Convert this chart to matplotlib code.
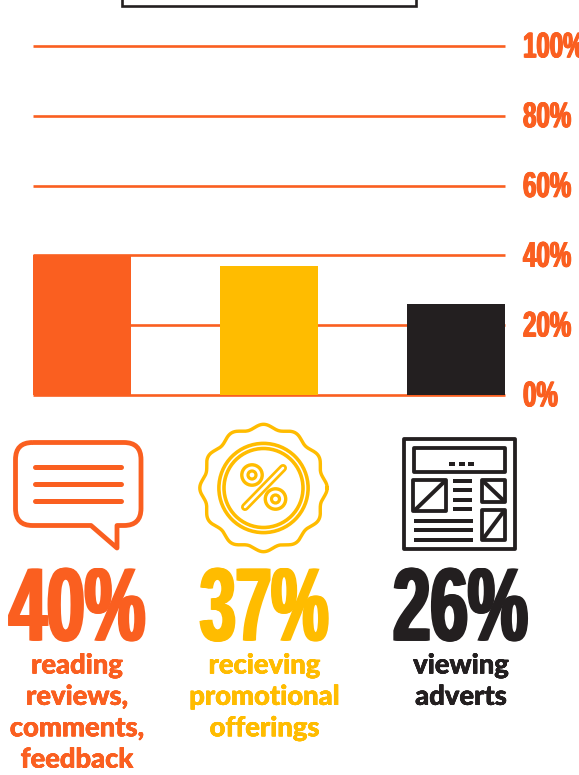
import numpy as np
import matplotlib
matplotlib.use('Agg')
import matplotlib.pyplot as plt
import matplotlib.patches as mp
import matplotlib.patheffects as pe
from matplotlib.path import Path
from matplotlib.transforms import Affine2D

activities = ['reading\nreviews,\ncomments,\nfeedback', 'recieving\npromotional\nofferings', 'viewing\nadverts']
shares = [40, 37, 26]
big_labels = ['40%', '37%', '26%']
ticks = [0, 20, 40, 60, 80, 100]
tick_labels = ['0%', '20%', '40%', '60%', '80%', '100%']
ORANGE = '#FA5F20'
YELLOW = '#FFBC00'
BLACK = '#231F20'
colors = [ORANGE, YELLOW, BLACK]

W, H = 579, 775


# tall condensed look: stretches glyphs upward from the baseline, thickens stems with offset copies
class Tall(pe.AbstractPathEffect):
    def __init__(self, sy, dy=0, fat=0):
        super().__init__()
        self.sy = sy
        self.dy = dy
        self.fat = fat

    def draw_path(self, renderer, gc, tpath, affine, rgbFace=None):
        base = Affine2D().scale(1, self.sy) + affine
        for dx in np.linspace(-self.fat, self.fat, 5):
            renderer.draw_path(gc, tpath, base + Affine2D().translate(dx, self.dy), rgbFace)


fig = plt.figure(figsize=(W/100, H/100), dpi=100, facecolor='white')

# bars
ax = fig.add_axes([33/W, 1-395/H, 472/W, 349/H])
x = np.arange(3)
ax.bar(x, shares, width=98/187, color=colors, zorder=3)
ax.set_xlim(-49/187, 2+49/187)
ax.set_ylim(0, 100)
ax.set_xticks([])
ax.set_yticks(ticks)
ax.set_yticklabels(tick_labels)
ax.yaxis.tick_right()
ax.tick_params(axis='y', length=0, pad=13, colors=ORANGE)
ax.grid(axis='y', color=ORANGE, lw=1.9, clip_on=False, zorder=1, solid_capstyle='butt')
for s in ax.spines.values():
    s.set_visible(False)
for lb in ax.get_yticklabels():
    lb.set_fontfamily('Liberation Sans')
    lb.set_fontweight('bold')
    lb.set_fontsize(17.3)
    lb.set_path_effects([Tall(1.5, dy=-2.5, fat=0.8)])

# everything below the chart is placed in pixel coordinates
ov = fig.add_axes([0, 0, 1, 1], facecolor='none')
ov.set_xlim(0, W)
ov.set_ylim(H, 0)
ov.axis('off')

# frame of the title box, cut by the top edge
ov.add_patch(mp.Rectangle((122, -10), 294, 16, fill=False, ec=BLACK, lw=1.9))

# speech bubble icon
px = 0.72
r = 17
L, R, T, B = 15.5, 141, 442.5, 525.5
verts = [(L+r, T), (R-r, T), (R, T), (R, T+r), (R, B-r), (R, B), (R-r, B),
         (117, B), (117, 548), (91, B), (L+r, B), (L, B), (L, B-r), (L, T+r), (L, T), (L+r, T)]
codes = [Path.MOVETO, Path.LINETO, Path.CURVE3, Path.CURVE3, Path.LINETO, Path.CURVE3, Path.CURVE3,
         Path.LINETO, Path.LINETO, Path.LINETO, Path.LINETO, Path.CURVE3, Path.CURVE3, Path.LINETO,
         Path.CURVE3, Path.CURVE3]
ov.add_patch(mp.PathPatch(Path(verts, codes), fill=False, ec=ORANGE, lw=4.8*px, joinstyle='round'))
for y in [467, 484, 501]:
    ov.plot([35, 121], [y, y], color=ORANGE, lw=5*px, solid_capstyle='round')

# discount badge icon
cx, cy = 263.5, 488
th = np.linspace(0, 2*np.pi, 500)
rad = 61.5 + 2.2*np.cos(12*(th + np.pi/2))
ov.plot(cx + rad*np.cos(th), cy + rad*np.sin(th), color=YELLOW, lw=3.4*px)
for rr, lw in [(44.6, 3.6), (39.5, 3.6)]:
    ov.add_patch(mp.Circle((cx, cy), rr, fill=False, ec=YELLOW, lw=lw*px))
ov.plot([245, 283], [507, 468], color=YELLOW, lw=8*px, solid_capstyle='round')
ov.plot([245, 283], [507, 468], color='white', lw=2.6*px, solid_capstyle='round')
for c in [(252, 475), (275.5, 499)]:
    ov.add_patch(mp.Circle(c, 10.2, fill=False, ec=YELLOW, lw=3.4*px))
    ov.add_patch(mp.Circle(c, 4, fill=False, ec=YELLOW, lw=3.2*px))

# newspaper icon
def box(x0, y0, x1, y1, lw=3.8):
    ov.add_patch(mp.Rectangle((x0, y0), x1-x0, y1-y0, fill=False, ec=BLACK, lw=lw*px, joinstyle='round'))

def rule(x0, y0, x1, y1, lw=4):
    ov.plot([x0, x1], [y0, y1], color=BLACK, lw=lw*px, solid_capstyle='butt')

box(404, 438.5, 515, 549, 3.8)
box(413.5, 448, 505, 472)
for dx in [452, 462, 471]:
    ov.add_patch(mp.Rectangle((dx-3, 462), 6, 4, color=BLACK, lw=0))
box(413, 480, 446, 511)
rule(414, 511, 445, 481)
box(482, 480, 505, 502)
rule(483, 481, 504, 501)
box(482, 510, 505, 540)
rule(483, 539, 504, 511)
for y in [481, 490, 500, 509]:
    rule(453, y, 472, y)
for y in [521, 530, 540]:
    rule(414, y, 473, y)

# large percentages
for left, t, c, fs in zip([9, 200, 393], big_labels, colors, [49, 46.2, 48.5]):
    ov.text(left, 640.5, t, color=c, fontsize=fs, family='Liberation Sans', fontweight='bold',
            ha='left', va='baseline', path_effects=[Tall(74/(fs/72*100*0.71), fat=2)])

# captions
for xc, t, c in zip([77, 264.5, 461], activities, colors):
    ov.text(xc, 653.5, t, color=c, fontsize=19.7, family='Lato', fontweight='black',
            ha='center', va='top', linespacing=1.37, path_effects=[Tall(1, fat=0.3)])

fig.savefig('out.png', dpi=100)
